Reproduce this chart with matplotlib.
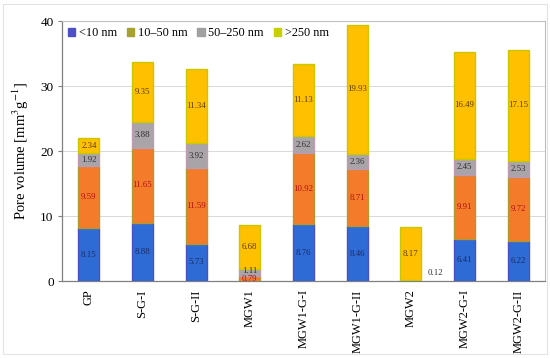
import matplotlib
matplotlib.use("Agg")
import matplotlib.pyplot as plt
from matplotlib.patches import Patch, Rectangle
import numpy as np

categories = ["GP", "S-G-I", "S-G-II", "MGW1", "MGW1-G-I", "MGW1-G-II", "MGW2", "MGW2-G-I", "MGW2-G-II"]
series_names = ["<10 nm", "10\u201350 nm", "50\u2013250 nm", ">250 nm"]
v_lt10 = [8.15, 8.88, 5.73, 0.0, 8.76, 8.46, 0.0, 6.41, 6.22]
v_10_50 = [9.59, 11.65, 11.59, 0.79, 10.92, 8.71, 0.12, 9.91, 9.72]
v_50_250 = [1.92, 3.88, 3.92, 1.11, 2.62, 2.36, 0.0, 2.45, 2.53]
v_gt250 = [2.34, 9.35, 11.34, 6.68, 11.13, 19.93, 8.17, 16.49, 17.15]

plt.rcParams['font.family'] = ['Liberation Serif', 'DejaVu Serif']
plt.rcParams['mathtext.fontset'] = 'stix'

fig = plt.figure(figsize=(5.5, 3.58), dpi=100)
ax = fig.add_axes([0.1127, 0.215, 0.991 - 0.1127, 0.941 - 0.215])

face = ["#2F6BD4", "#F47B2A", "#A9A4A8", "#FFC000"]
edge = ["#4A4FC4", "#B09A30", "#C09AB0", "#C8C800"]
legend_cols = ["#4F4FC8", "#A8A030", "#A0A0A0", "#C8D000"]
text_cols = ["#1A2A66", "#B01010", "#303030", "#5A3A00"]

x = np.arange(len(categories))
width = 0.39
data = [v_lt10, v_10_50, v_50_250, v_gt250]
bottom = np.zeros(len(categories))
for k, vals in enumerate(data):
    vals = np.array(vals)
    ax.bar(x, vals, width, bottom=bottom, color=face[k], edgecolor=edge[k],
           linewidth=1.0, zorder=3)
    for i, v in enumerate(vals):
        if v <= 0:
            continue
        if categories[i] == "MGW2" and k == 1:
            ax.text(x[i] + 0.45, 1.2, f"{v:.2f}", ha="center", va="center",
                    fontsize=6.3, color="#303030", zorder=4)
            continue
        ypos = bottom[i] + v / 2
        if categories[i] == "MGW1" and k == 1:
            ypos = 0.35
        if categories[i] == "MGW1" and k == 2:
            ypos = 1.5
        ax.text(x[i], ypos, f"{v:.2f}", ha="center", va="center",
                fontsize=6.3, color=text_cols[k], zorder=4)
    bottom = bottom + vals

ax.set_xlim(-0.5, 8.5)
ax.set_ylim(0, 40)
ax.set_yticks([0, 10, 20, 30, 40])
ax.set_xticks(x)
ax.set_xticklabels(categories, rotation=90, fontsize=9)
ax.tick_params(axis='y', labelsize=9.5, length=3, color="#808080", pad=3)
ax.tick_params(axis='x', length=0, pad=6)
ax.grid(axis='y', color="#D9D9D9", linewidth=0.7, zorder=0)
ax.set_ylabel("Pore volume [mm$^{3}$g$^{-1}$]", fontsize=10.5, labelpad=7)

for s in ["top", "right"]:
    ax.spines[s].set_color("#BFBFBF")
    ax.spines[s].set_linewidth(0.8)
for s in ["left", "bottom"]:
    ax.spines[s].set_color("#808080")
    ax.spines[s].set_linewidth(0.9)

handles = [Patch(facecolor=c, edgecolor=c) for c in legend_cols]
ax.legend(handles, series_names, loc="upper left", ncol=4, frameon=False,
          fontsize=8.8, handlelength=0.6, handleheight=0.6, handletextpad=0.3,
          columnspacing=0.8, borderaxespad=0.3, borderpad=0.2)

fig.patches.append(Rectangle((3 / 550, 4 / 358), 544 / 550, 350 / 358,
                             transform=fig.transFigure, fill=False,
                             edgecolor="#E3E3E3", linewidth=0.8))

fig.savefig("out.png", dpi=100)
